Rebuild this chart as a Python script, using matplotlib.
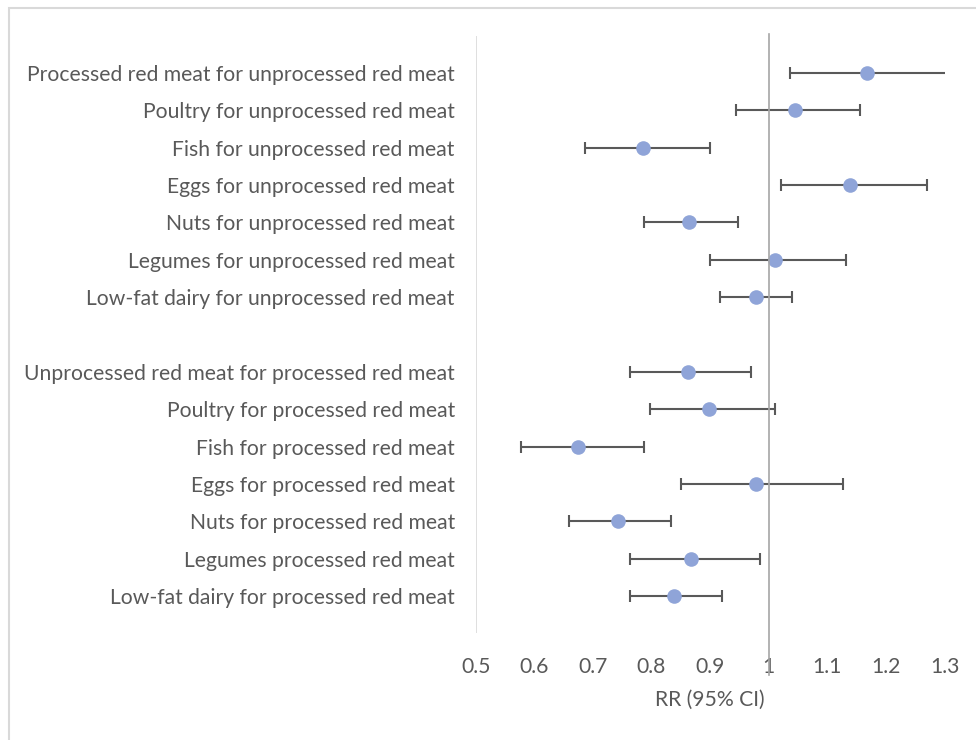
import matplotlib.pyplot as plt
from matplotlib.lines import Line2D
from matplotlib.patches import Rectangle

plt.rcParams['font.family'] = ['Lato', 'DejaVu Sans']

labels = [
    "Processed red meat for unprocessed red meat",
    "Poultry for unprocessed red meat",
    "Fish for unprocessed red meat",
    "Eggs for unprocessed red meat",
    "Nuts for unprocessed red meat",
    "Legumes for unprocessed red meat",
    "Low-fat dairy for unprocessed red meat",
    "",
    "Unprocessed red meat for processed red meat",
    "Poultry for processed red meat",
    "Fish for processed red meat",
    "Eggs for processed red meat",
    "Nuts for processed red meat",
    "Legumes processed red meat",
    "Low-fat dairy for processed red meat",
]
rr = [1.167, 1.045, 0.786, 1.139, 0.864, 1.011, 0.978,
      None,
      0.862, 0.898, 0.675, 0.979, 0.742, 0.868, 0.839]
lower = [1.036, 0.945, 0.686, 1.021, 0.787, 0.900, 0.917,
         None,
         0.764, 0.797, 0.577, 0.850, 0.659, 0.763, 0.764]
upper = [1.33, 1.155, 0.899, 1.270, 0.947, 1.132, 1.040,
         None,
         0.970, 1.011, 0.788, 1.126, 0.833, 0.986, 0.920]
xticks = [0.5, 0.6, 0.7, 0.8, 0.9, 1.0, 1.1, 1.2, 1.3]
xtick_labels = ["0.5", "0.6", "0.7", "0.8", "0.9", "1", "1.1", "1.2", "1.3"]

W, H = 976, 740
fig = plt.figure(figsize=(W / 100, H / 100), dpi=100)

# chart area border
fig.patches.append(Rectangle((9 / W, -0.1), 1.2, 1 - 8 / H + 0.1,
                             transform=fig.transFigure, fill=False,
                             edgecolor="#d9d9d9", linewidth=1.5))

ax = fig.add_axes([475.7 / W, 1 - 633.4 / H, (944.5 - 475.7) / W, (633.4 - 35.6) / H])

ys = [i + 1 for i in range(len(labels))]
for y, m, lo, hi in zip(ys, rr, lower, upper):
    if m is None:
        continue
    ax.errorbar([m], [y], xerr=[[m - lo], [hi - m]], fmt="none",
                ecolor="#595959", elinewidth=1.5, capsize=4, capthick=1.5, zorder=2)
    ax.plot([m], [y], "o", color="#8fa4d8", markersize=10.5, markeredgewidth=0, zorder=3)

ax.set_xlim(0.5, 1.3)
ax.set_ylim(16, 0)
ax.axvline(0.5, color="#d9d9d9", linewidth=1.2, zorder=1)

# line at RR = 1 running through tick labels
x1 = ax.transData.transform((1.0, 0))[0] / W
fig.add_artist(Line2D([x1, x1], [1 - 34 / H, 1 - 675 / H], transform=fig.transFigure,
                      color="#a6a6a6", linewidth=1.2))

ax.set_xticks(xticks)
ax.set_xticklabels(xtick_labels)
ax.set_yticks(ys)
ax.set_yticklabels(labels)
ax.tick_params(axis="both", length=0, labelsize=15.2, colors="#595959")
ax.tick_params(axis="x", pad=17)
ax.tick_params(axis="y", pad=15)
for s in ax.spines.values():
    s.set_visible(False)

ax.set_xlabel("RR (95% CI)", fontsize=15.2, color="#595959", labelpad=9)

fig.savefig("out.png", dpi=100)
